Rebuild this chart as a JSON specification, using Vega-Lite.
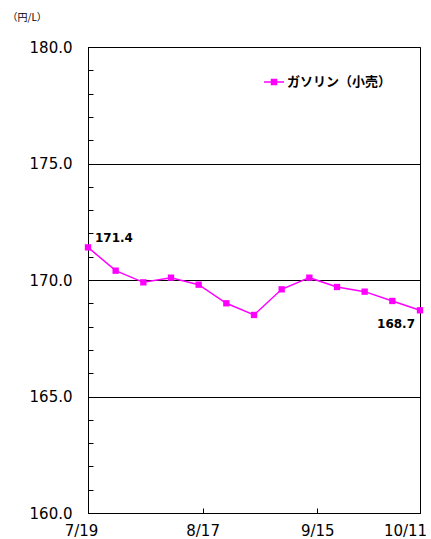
{
  "$schema": "https://vega.github.io/schema/vega-lite/v6.json",
  "width": 332,
  "height": 466,
  "autosize": {"type": "none"},
  "padding": {"left": 88, "top": 47, "right": 11, "bottom": 26},
  "background": "white",
  "config": {"view": {"stroke": "black", "strokeWidth": 1}, "font": "DejaVu Sans"},
  "data": {
    "values": [
      {"date": "2021/07/19", "price": 171.4},
      {"date": "2021/07/26", "price": 170.4},
      {"date": "2021/08/02", "price": 169.9},
      {"date": "2021/08/09", "price": 170.1},
      {"date": "2021/08/16", "price": 169.8},
      {"date": "2021/08/23", "price": 169.0},
      {"date": "2021/08/30", "price": 168.5},
      {"date": "2021/09/06", "price": 169.6},
      {"date": "2021/09/13", "price": 170.1},
      {"date": "2021/09/20", "price": 169.7},
      {"date": "2021/09/27", "price": 169.5},
      {"date": "2021/10/04", "price": 169.1},
      {"date": "2021/10/11", "price": 168.7}
    ]
  },
  "encoding": {
    "x": {
      "field": "date",
      "type": "temporal",
      "scale": {"domain": [{"year": 2021, "month": 7, "date": 19}, {"year": 2021, "month": 10, "date": 11}]},
      "axis": {
        "title": null,
        "values": [
          {"year": 2021, "month": 7, "date": 19},
          {"year": 2021, "month": 8, "date": 17},
          {"year": 2021, "month": 9, "date": 15},
          {"year": 2021, "month": 10, "date": 11}
        ],
        "format": "%-m/%-d",
        "grid": false,
        "domainColor": "black",
        "tickColor": "black",
        "tickSize": -5,
        "labelPadding": 15,
        "labelFontSize": 15,
        "labelFont": "DejaVu Sans",
        "labelColor": "black",
        "labelOverlap": false,
        "labelFlush": false,
        "labelOffset": {
          "condition": [
            {"test": "datum.value < time(datetime(2021, 6, 25))", "value": -7},
            {"test": "datum.value > time(datetime(2021, 9, 1))", "value": -15}
          ],
          "value": 0
        }
      }
    },
    "y": {
      "field": "price",
      "type": "quantitative",
      "scale": {"domain": [160, 180], "nice": false, "zero": false},
      "axis": {
        "title": "（円/L）",
        "titleAngle": 0,
        "titleAlign": "left",
        "titleBaseline": "middle",
        "titleX": -81,
        "titleY": -30,
        "titleFont": "Noto Sans CJK JP",
        "titleFontSize": 10,
        "titleFontWeight": "normal",
        "titleColor": "black",
        "values": [160,161,162,163,164,165,166,167,168,169,170,171,172,173,174,175,176,177,178,179,180],
        "labelExpr": "datum.value % 5 === 0 ? format(datum.value, '.1f') : ''",
        "labelOverlap": false,
        "grid": true,
        "gridColor": {"condition": {"test": "datum.value % 5 === 0", "value": "black"}, "value": "transparent"},
        "gridWidth": 1,
        "domainColor": "black",
        "tickColor": "black",
        "tickSize": -5,
        "labelPadding": 21,
        "labelFontSize": 15,
        "labelFont": "DejaVu Sans",
        "labelColor": "black"
      }
    }
  },
  "layer": [
    {
      "mark": {"type": "line", "strokeWidth": 1.5},
      "encoding": {
        "color": {
          "datum": "ガソリン（小売）",
          "scale": {"range": ["#FF00FF"]},
          "legend": {
            "title": null,
            "orient": "none",
            "legendX": 175,
            "legendY": 24,
            "padding": 0,
            "labelFont": "Noto Sans CJK JP",
            "labelFontSize": 13,
            "labelFontWeight": "bold",
            "labelColor": "black",
            "labelOffset": 2,
            "symbolSize": 400,
            "symbolType": "M-1,0H1M-0.25,-0.25H0.25V0.25H-0.25Z",
            "encode": {
              "symbols": {
                "update": {
                  "fill": {"value": "#FF00FF"},
                  "stroke": {"value": "#FF00FF"},
                  "strokeWidth": {"value": 1.5},
                  "shape": {"value": "M-1,0H1M-0.25,-0.25H0.25V0.25H-0.25Z"}
                }
              }
            }
          }
        }
      }
    },
    {
      "mark": {"type": "point", "shape": "square", "filled": true, "size": 40, "color": "#FF00FF", "opacity": 1}
    },
    {
      "transform": [{"filter": "datum.price === 171.4"}],
      "mark": {"type": "text", "align": "left", "baseline": "middle", "dx": 7, "dy": -9, "fontWeight": "bold", "fontSize": 12, "font": "DejaVu Sans", "color": "black"},
      "encoding": {"text": {"field": "price", "type": "quantitative", "format": ".1f"}}
    },
    {
      "transform": [{"filter": "datum.price === 168.7"}],
      "mark": {"type": "text", "align": "right", "baseline": "middle", "dx": -5, "dy": 14, "fontWeight": "bold", "fontSize": 12, "font": "DejaVu Sans", "color": "black"},
      "encoding": {"text": {"field": "price", "type": "quantitative", "format": ".1f"}}
    }
  ]
}
